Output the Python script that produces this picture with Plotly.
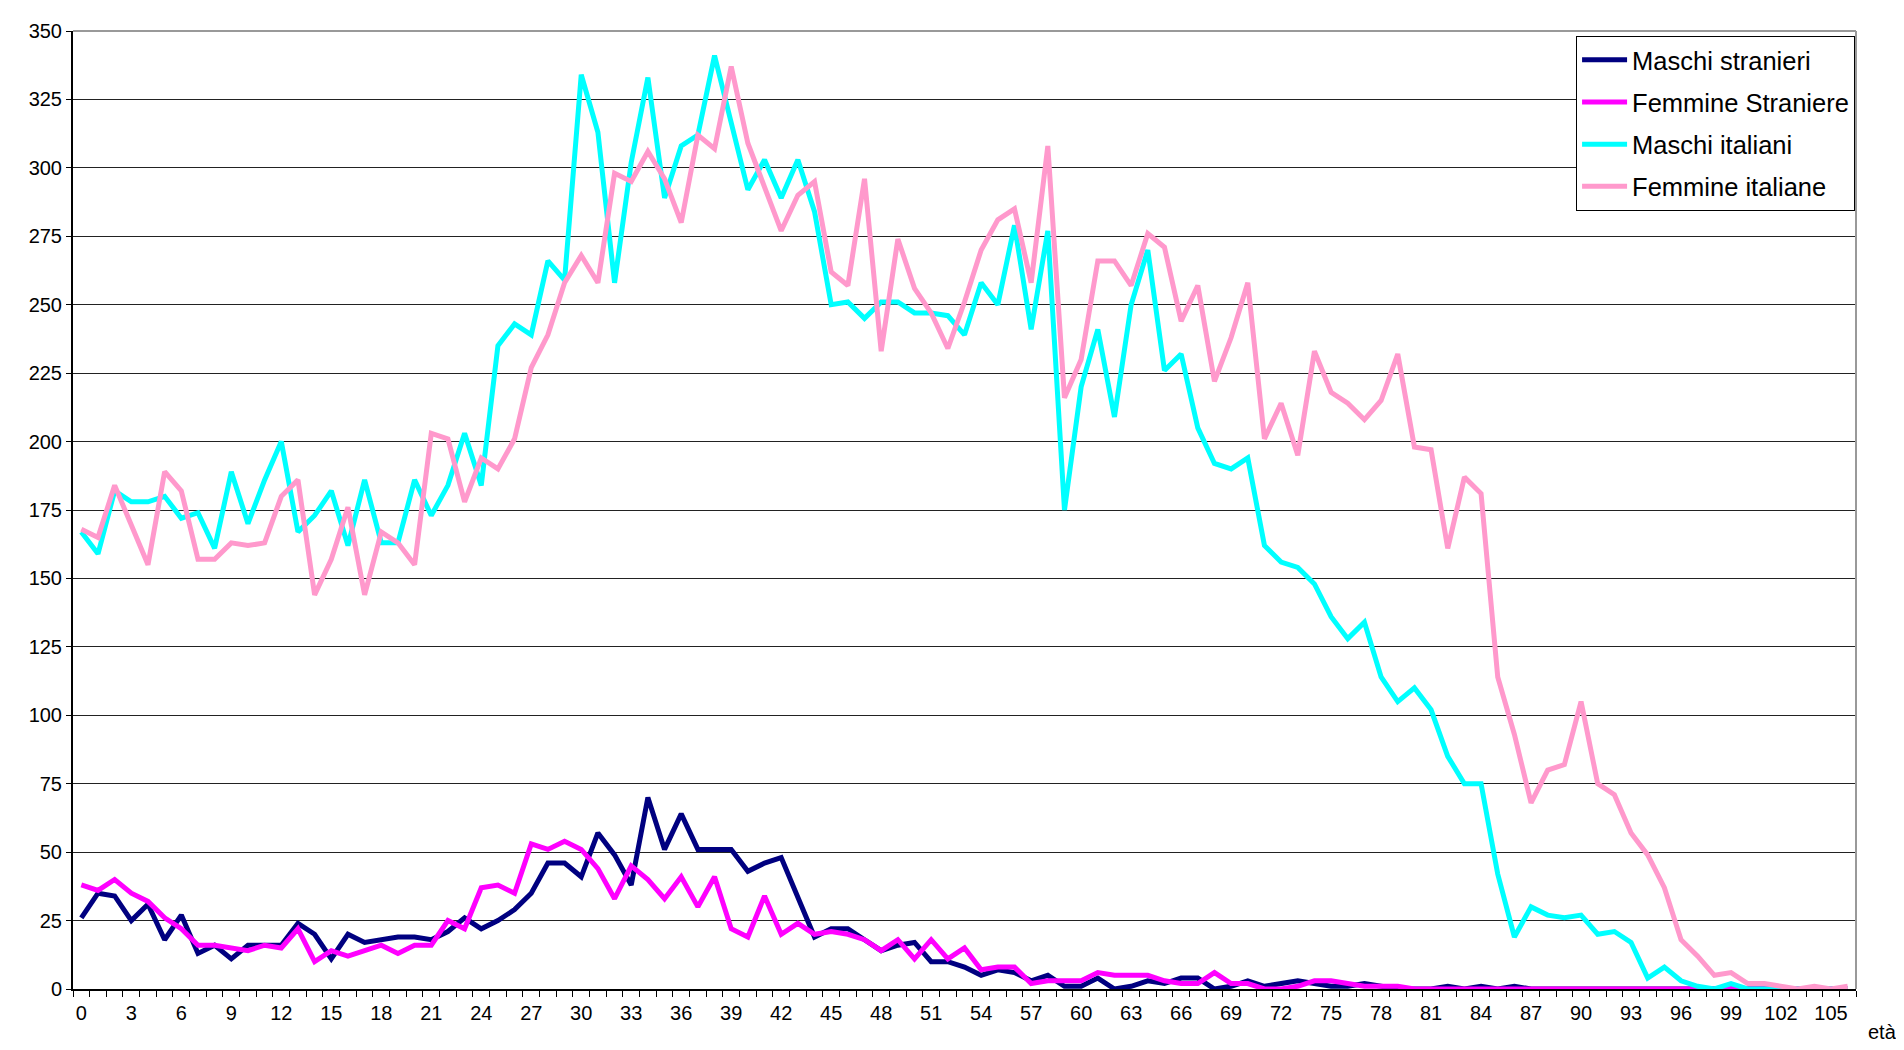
import plotly.graph_objects as go

# età 0..106
eta = list(range(0, 107))

maschi_stranieri = [
    26, 35, 34, 25, 31, 18, 27, 13, 16, 11, 16, 16, 16, 24, 20, 11, 20, 17, 18, 19,
    19, 18, 21, 26, 22, 25, 29, 35, 46, 46, 41, 57, 49, 38, 70, 51, 64, 51, 51, 51,
    43, 46, 48, 33, 19, 22, 22, 18, 14, 16, 17, 10, 10, 8, 5, 7, 6, 3, 5, 1,
    1, 4, 0, 1, 3, 2, 4, 4, 0, 1, 3, 1, 2, 3, 2, 1, 1, 2, 1, 0,
    0, 0, 1, 0, 1, 0, 1, 0, 0, 0, 0, 0, 0, 0, 0, 0, 0, 0, 0, 0,
    0, 0, 0, 0, 0, 0, 0,
]

femmine_straniere = [
    38, 36, 40, 35, 32, 26, 22, 16, 16, 15, 14, 16, 15, 22, 10, 14, 12, 14, 16, 13,
    16, 16, 25, 22, 37, 38, 35, 53, 51, 54, 51, 44, 33, 45, 40, 33, 41, 30, 41, 22,
    19, 34, 20, 24, 20, 21, 20, 18, 14, 18, 11, 18, 11, 15, 7, 8, 8, 2, 3, 3,
    3, 6, 5, 5, 5, 3, 2, 2, 6, 2, 2, 0, 0, 1, 3, 3, 2, 1, 1, 1,
    0, 0, 0, 0, 0, 0, 0, 0, 0, 0, 0, 0, 0, 0, 0, 0, 0, 0, 0, 1,
    0, 0, 0, 0, 0, 0, 0,
]

maschi_italiani = [
    167, 159, 182, 178, 178, 180, 172, 174, 161, 189, 170, 186, 200, 167, 173, 182, 162, 186, 163, 163,
    186, 173, 184, 203, 184, 235, 243, 239, 266, 259, 334, 313, 258, 302, 333, 289, 308, 312, 341, 317,
    292, 303, 289, 303, 284, 250, 251, 245, 251, 251, 247, 247, 246, 239, 258, 250, 279, 241, 277, 175,
    220, 241, 209, 250, 270, 226, 232, 205, 192, 190, 194, 162, 156, 154, 148, 136, 128, 134, 114, 105,
    110, 102, 85, 75, 75, 42, 19, 30, 27, 26, 27, 20, 21, 17, 4, 8, 3, 1, 0, 2,
    0, 0, 0, 0, 0, 0, 0,
]

femmine_italiane = [
    168, 165, 184, 170, 155, 189, 182, 157, 157, 163, 162, 163, 180, 186, 144, 157, 176, 144, 167, 163,
    155, 203, 201, 178, 194, 190, 201, 227, 239, 258, 268, 258, 298, 295, 306, 296, 280, 312, 307, 337,
    309, 293, 277, 290, 295, 262, 257, 296, 233, 274, 256, 247, 234, 251, 270, 281, 285, 258, 308, 216,
    230, 266, 266, 257, 276, 271, 244, 257, 222, 238, 258, 201, 214, 195, 233, 218, 214, 208, 215, 232,
    198, 197, 161, 187, 181, 114, 93, 68, 80, 82, 105, 75, 71, 57, 49, 37, 18, 12, 5, 6,
    2, 2, 1, 0, 1, 0, 1,
]

x_tick_vals = [0, 3, 6, 9, 12, 15, 18, 21, 24, 27, 30, 33, 36, 39, 42, 45, 48, 51,
               54, 57, 60, 63, 66, 69, 72, 75, 78, 81, 84, 87, 90, 93, 96, 99, 102, 105]
y_tick_vals = [0, 25, 50, 75, 100, 125, 150, 175, 200, 225, 250, 275, 300, 325, 350]

series = [
    ("Maschi stranieri", maschi_stranieri, "#000080"),
    ("Femmine Straniere", femmine_straniere, "#FF00FF"),
    ("Maschi italiani", maschi_italiani, "#00FFFF"),
    ("Femmine italiane", femmine_italiane, "#FF99CC"),
]

FONT = "Liberation Sans, Arial, sans-serif"

fig = go.Figure()
for name, values, color in series:
    fig.add_trace(
        go.Scatter(
            x=eta,
            y=values,
            name=name,
            mode="lines",
            line=dict(color=color, width=5),
            legendgroup=name,
        )
    )

fig.update_layout(
    width=1904,
    height=1050,
    paper_bgcolor="white",
    plot_bgcolor="white",
    margin=dict(l=65, r=56, t=23, b=69),
    font=dict(family=FONT, size=20, color="black"),
    showlegend=True,
    legend=dict(
        x=0.843,
        y=0.995,
        xanchor="left",
        yanchor="top",
        bgcolor="white",
        bordercolor="black",
        borderwidth=1,
        font=dict(family=FONT, size=25.5, color="black"),
        tracegroupgap=6,
        traceorder="grouped",
        itemwidth=45,
    ),
    xaxis=dict(
        range=[-0.5, 106.5],
        tickmode="array",
        tickvals=x_tick_vals,
        ticktext=[str(v) for v in x_tick_vals],
        ticks="",
        showgrid=False,
        zeroline=False,
        showline=True,
        linecolor="black",
        linewidth=2,
        tickfont=dict(family=FONT, size=20, color="black"),
        ticklabelstandoff=5,
        minor=dict(
            tickmode="linear",
            tick0=-0.5,
            dtick=1,
            ticks="outside",
            ticklen=6,
            tickcolor="black",
            tickwidth=1,
            showgrid=False,
        ),
    ),
    yaxis=dict(
        range=[0, 350],
        tickmode="array",
        tickvals=y_tick_vals,
        ticks="outside",
        ticklen=5,
        tickcolor="black",
        showgrid=True,
        gridcolor="#222222",
        gridwidth=1,
        zeroline=False,
        showline=True,
        linecolor="black",
        linewidth=2,
        tickfont=dict(family=FONT, size=20, color="black"),
    ),
    shapes=[
        dict(type="line", xref="paper", yref="paper", x0=0, x1=1, y0=1, y1=1,
             line=dict(color="#999999", width=2), layer="above"),
        dict(type="line", xref="paper", yref="paper", x0=1, x1=1, y0=0, y1=1,
             line=dict(color="#999999", width=2), layer="above"),
    ],
    annotations=[
        dict(text="età", xref="paper", yref="paper", x=1.024, y=-0.045,
             xanchor="right", yanchor="middle", showarrow=False,
             font=dict(family=FONT, size=20, color="black")),
    ],
)

fig.write_html("out.html")
